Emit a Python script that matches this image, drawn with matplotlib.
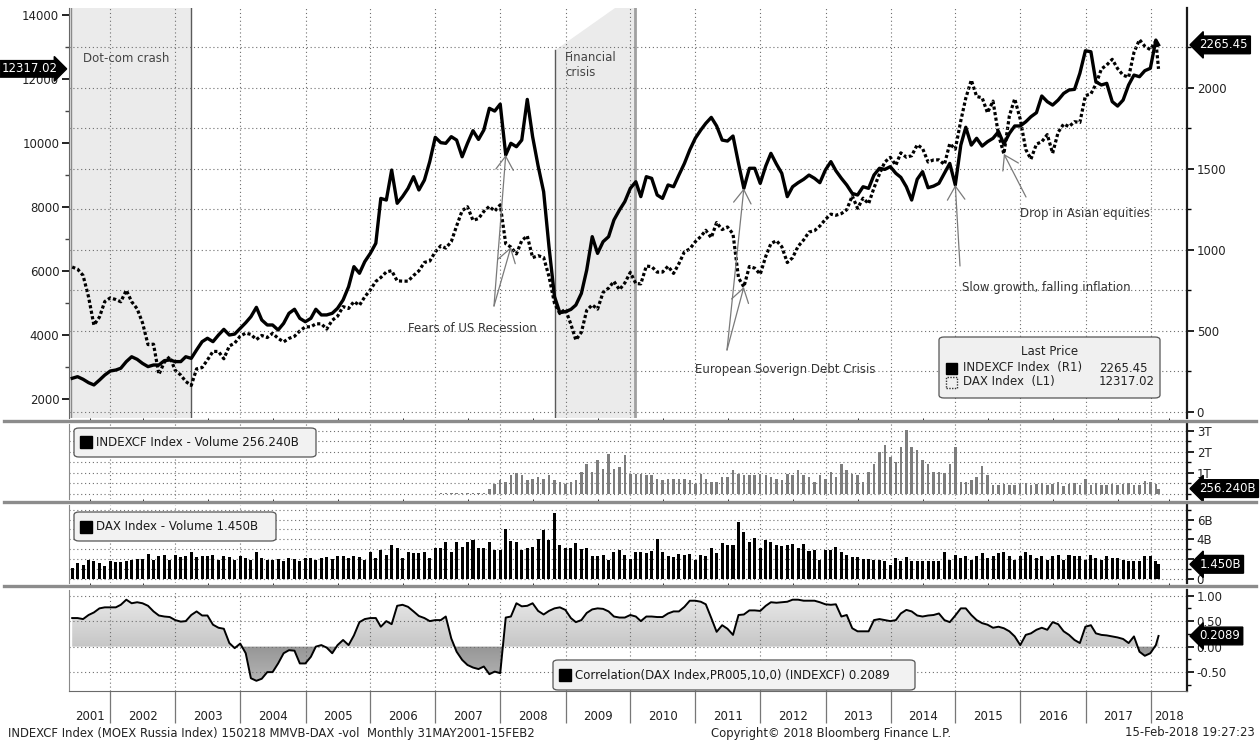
"""
Bloomberg-style chart: MOEX Russia (INDEXCF) vs DAX, volumes and rolling correlation.
Monthly 31MAY2001 - 15FEB2018, values read off the reference screenshot.
"""
import matplotlib
matplotlib.use("Agg")
import matplotlib.pyplot as plt
import matplotlib.dates as mdates
import matplotlib.ticker as mticker
from matplotlib.colors import LinearSegmentedColormap
from matplotlib.lines import Line2D
from matplotlib.patches import FancyBboxPatch, Rectangle
from matplotlib.path import Path
import numpy as np
import pandas as pd

plt.rcParams.update({
    "font.family": "DejaVu Sans",
    "font.size": 8.5,
    "text.color": "#222222",
    "axes.labelcolor": "#222222",
})

FIG_W, FIG_H = 1260, 743
PLOT_LEFT, PLOT_RIGHT = 69, 1187

# ---- data (monthly closes, last point 15 Feb 2018) ----
DATES = list(pd.date_range("2001-05-31", "2018-01-31", freq="ME")) + [pd.Timestamp("2018-02-15")]

INDEXCF = [
    208, 218, 202, 181, 167, 197, 228, 253,
    259, 270, 311, 341, 325, 300, 280, 290, 290, 317, 321, 311,
    311, 341, 331, 383, 434, 455, 434, 475, 510, 475, 481, 516,
    551, 588, 646, 568, 537, 537, 506, 547, 609, 634, 578, 557,
    578, 634, 599, 599, 609, 640, 691, 773, 897, 856, 928, 979,
    1041, 1318, 1308, 1493, 1288, 1329, 1380, 1452, 1370, 1431, 1545, 1695,
    1662, 1658, 1699, 1678, 1575, 1658, 1736, 1682, 1740, 1874, 1857, 1900,
    1586, 1658, 1637, 1678, 1929, 1699, 1518, 1359, 1020, 712, 613, 619,
    633, 660, 732, 876, 1082, 979, 1051, 1082, 1185, 1246, 1298, 1380,
    1421, 1329, 1452, 1442, 1339, 1318, 1401, 1390, 1462, 1534, 1617, 1689,
    1740, 1781, 1818, 1765, 1678, 1672, 1703, 1534, 1380, 1504, 1504, 1411,
    1518, 1596, 1530, 1473, 1329, 1390, 1415, 1436, 1462, 1442, 1415, 1493,
    1545, 1489, 1442, 1401, 1349, 1339, 1390, 1380, 1462, 1504, 1497, 1514,
    1473, 1448, 1390, 1308, 1436, 1483, 1384, 1394, 1411, 1473, 1534, 1401,
    1647, 1757, 1647, 1689, 1641, 1668, 1689, 1730, 1654, 1719, 1765, 1765,
    1791, 1822, 1847, 1950, 1915, 1894, 1925, 1966, 1987, 1991, 2090, 2229,
    2223, 2038, 2018, 2028, 1915, 1888, 1925, 2018, 2079, 2069, 2106, 2121,
    2295, 2265.45,
]

DAX = [
    6124, 6058, 5862, 5188, 4308, 4560, 5045, 5160,
    5108, 5039, 5398, 5041, 4818, 4383, 3700, 3712, 2769, 3153, 3320, 2893,
    2748, 2547, 2424, 2942, 2983, 3221, 3487, 3485, 3257, 3656, 3746, 3965,
    4059, 4018, 3857, 3985, 3921, 4052, 3895, 3785, 3893, 3960, 4126, 4256,
    4255, 4350, 4349, 4185, 4460, 4586, 4887, 4829, 5044, 4929, 5193, 5408,
    5674, 5796, 5970, 6009, 5692, 5683, 5682, 5859, 6004, 6269, 6309, 6597,
    6789, 6715, 6917, 7409, 7884, 8007, 7584, 7638, 7862, 8020, 7871, 8067,
    6851, 6748, 6535, 6949, 7097, 6418, 6479, 6422, 5831, 4988, 4669, 4810,
    4338, 3843, 4085, 4770, 4941, 4809, 5332, 5465, 5675, 5415, 5625, 5957,
    5608, 5598, 6154, 6136, 5965, 5966, 6148, 5925, 6229, 6601, 6688, 6914,
    7077, 7272, 7041, 7514, 7294, 7376, 7159, 5785, 5502, 6141, 6089, 5898,
    6458, 6856, 6947, 6761, 6264, 6416, 6772, 6971, 7216, 7261, 7406, 7612,
    7776, 7742, 7795, 7914, 8349, 7959, 8276, 8104, 8594, 9033, 9406, 9552,
    9306, 9692, 9556, 9603, 9943, 9833, 9407, 9470, 9474, 9327, 9981, 9806,
    10694, 11402, 11966, 11454, 11414, 10945, 11309, 10259, 9660, 10850, 11382, 10743,
    9798, 9495, 9966, 10039, 10263, 9680, 10337, 10593, 10511, 10665, 10640, 11481,
    11535, 11834, 12313, 12438, 12615, 12325, 12118, 12056, 12829, 13230, 13024, 12918,
    13189, 12317.02,
]

# INDEXCF volume in trillions, series starts Jan 2007
INDEXCF_VOL_START = "2007-01-31"
INDEXCF_VOL = [
    0.03, 0.03, 0.03, 0.03, 0.03, 0.03, 0.03, 0.03, 0.03, 0.25, 0.49, 0.65,
    0.57, 0.89, 1.0, 0.89, 0.65, 0.73, 0.81, 0.73, 0.89, 0.65, 0.57, 0.46,
    0.57, 0.65, 1.05, 1.44, 1.05, 1.6, 1.2, 1.92, 1.2, 1.29, 1.84, 0.97,
    0.94, 0.97, 0.89, 0.92, 0.73, 0.65, 0.70, 0.73, 0.70, 0.73, 0.65, 0.49,
    0.97, 0.73, 0.57, 0.57, 0.81, 0.81, 1.13, 0.97, 0.89, 0.92, 0.89, 0.97,
    0.89, 0.81, 0.73, 0.65, 0.97, 0.89, 1.13, 0.89, 0.81, 0.57, 0.89, 0.73,
    1.05, 0.81, 1.44, 1.13, 0.97, 0.89, 0.57, 1.05, 1.44, 2.0, 2.32, 1.76,
    1.52, 2.24, 3.06, 2.24, 2.08, 1.63, 1.44, 1.05, 1.05, 1.0, 1.41, 2.24,
    0.57, 0.57, 0.65, 0.81, 1.32, 0.89, 0.44, 0.44, 0.46, 0.41, 0.44, 0.46,
    0.52, 0.44, 0.46, 0.52, 0.41, 0.49, 0.57, 0.38, 0.46, 0.52, 0.41, 0.73,
    0.44, 0.52, 0.41, 0.44, 0.49, 0.41, 0.46, 0.52, 0.44, 0.41, 0.60, 0.57,
    0.49, 0.25624,
]

# DAX volume in billions
DAX_VOL = [
    1.09, 1.59, 1.42, 1.92, 1.75, 1.59, 1.26, 1.75,
    1.69, 1.69, 1.75, 1.92, 2.0, 2.0, 2.48, 1.92, 2.25, 2.35, 1.92, 2.35,
    2.15, 2.25, 2.68, 2.15, 2.25, 2.25, 2.35, 1.92, 2.25, 2.15, 1.92, 2.25,
    2.08, 1.92, 2.74, 2.08, 1.92, 1.92, 2.0, 1.75, 2.08, 2.0, 1.75, 2.08,
    2.08, 1.92, 2.08, 2.15, 2.0, 2.25, 2.25, 2.08, 2.25, 2.15, 1.92, 2.74,
    2.08, 2.91, 2.41, 3.40, 3.07, 2.08, 2.74, 2.58, 2.58, 2.74, 2.08, 3.07,
    3.07, 3.74, 2.74, 3.74, 3.24, 3.67, 3.90, 3.14, 3.07, 3.74, 2.91, 2.91,
    5.06, 3.80, 3.74, 2.91, 3.07, 3.24, 4.0, 4.89, 3.90, 6.71, 3.40, 3.14,
    3.14, 3.57, 3.01, 3.07, 2.25, 2.25, 2.41, 1.92, 2.74, 2.91, 2.41, 2.0,
    2.74, 2.74, 2.58, 2.81, 4.0, 2.74, 2.25, 2.15, 2.48, 2.35, 2.48, 1.92,
    2.41, 2.25, 3.14, 2.58, 3.57, 3.40, 3.40, 5.72, 4.73, 3.74, 4.13, 3.07,
    3.90, 3.74, 3.40, 3.31, 3.40, 3.47, 3.07, 3.47, 2.81, 2.91, 1.92, 2.91,
    2.91, 3.24, 2.68, 2.41, 2.15, 2.15, 2.0, 2.0, 1.92, 1.92, 1.75, 1.42,
    2.08, 1.75, 2.15, 1.75, 1.75, 1.75, 1.75, 1.75, 1.75, 2.74, 1.92, 2.41,
    2.08, 2.25, 1.92, 2.25, 2.58, 2.08, 2.25, 2.58, 2.74, 2.25, 1.92, 2.25,
    2.74, 2.41, 2.08, 2.25, 1.92, 2.25, 2.41, 1.92, 2.41, 2.25, 2.25, 1.92,
    2.41, 2.08, 1.92, 2.25, 2.08, 2.08, 1.92, 1.75, 1.75, 1.75, 2.25, 2.25,
    1.75, 1.45,
]

CORR = [
    0.56, 0.56, 0.54, 0.62, 0.67, 0.75, 0.77, 0.77,
    0.77, 0.82, 0.92, 0.85, 0.87, 0.85, 0.80, 0.69, 0.61, 0.59, 0.58, 0.52,
    0.49, 0.50, 0.62, 0.69, 0.61, 0.61, 0.43, 0.37, 0.35, 0.07, -0.03, 0.06,
    -0.13, -0.62, -0.67, -0.63, -0.50, -0.50, -0.33, -0.13, -0.07, -0.08, -0.33, -0.33,
    -0.20, 0.00, 0.03, -0.02, -0.13, 0.03, 0.13, 0.03, 0.22, 0.48, 0.54, 0.56,
    0.56, 0.39, 0.50, 0.44, 0.80, 0.82, 0.78, 0.69, 0.60, 0.56, 0.50, 0.52,
    0.52, 0.59, 0.16, -0.10, -0.26, -0.36, -0.41, -0.44, -0.39, -0.54, -0.49, -0.52,
    0.57, 0.59, 0.85, 0.79, 0.80, 0.85, 0.70, 0.63, 0.70, 0.75, 0.77, 0.72,
    0.56, 0.48, 0.52, 0.66, 0.73, 0.75, 0.74, 0.69, 0.59, 0.57, 0.57, 0.62,
    0.59, 0.50, 0.59, 0.59, 0.58, 0.58, 0.65, 0.69, 0.69, 0.78, 0.90, 0.90,
    0.88, 0.83, 0.56, 0.29, 0.42, 0.35, 0.23, 0.62, 0.63, 0.71, 0.71, 0.70,
    0.80, 0.87, 0.86, 0.87, 0.88, 0.92, 0.92, 0.90, 0.90, 0.90, 0.87, 0.83,
    0.82, 0.83, 0.59, 0.62, 0.36, 0.30, 0.30, 0.30, 0.52, 0.54, 0.52, 0.50,
    0.52, 0.65, 0.72, 0.69, 0.61, 0.59, 0.61, 0.62, 0.65, 0.52, 0.48, 0.61,
    0.75, 0.75, 0.62, 0.52, 0.46, 0.43, 0.37, 0.39, 0.36, 0.30, 0.20, 0.03,
    0.23, 0.26, 0.33, 0.37, 0.33, 0.48, 0.44, 0.30, 0.23, 0.13, 0.07, 0.39,
    0.42, 0.26, 0.23, 0.22, 0.20, 0.18, 0.15, 0.07, 0.20, -0.10, -0.18, -0.13,
    0.03, 0.2089,
]

YEARS = list(range(2001, 2019))
XLIM = (pd.Timestamp("2001-05-13"), pd.Timestamp("2018-07-25"))

# shaded events and annotations
DOTCOM_END = pd.Timestamp("2003-03-31")
CRISIS_START, CRISIS_DIAG, CRISIS_END = (pd.Timestamp("2008-11-04"),
                                         pd.Timestamp("2009-10-06"),
                                         pd.Timestamp("2010-01-28"))

GRID_KW = dict(color="#6e6e6e", lw=0.8, ls=(0, (1, 2.5)))
ARROW_KW = dict(arrowstyle="->,head_length=0.7,head_width=0.45", color="#7a7a7a",
                lw=0.9, shrinkA=0, shrinkB=0, mutation_scale=14)


def fx(px):
    return px / FIG_W


def fy(py):
    return 1 - py / FIG_H


def panel_rect(top, bottom):
    return [fx(PLOT_LEFT), fy(bottom), (PLOT_RIGHT - PLOT_LEFT) / FIG_W, (bottom - top) / FIG_H]


def main_frac(px, py):
    return ((px - PLOT_LEFT) / (PLOT_RIGHT - PLOT_LEFT), (418 - py) / (418 - 8))


def style_panel(ax, bottom=False):
    for side in ("top", "bottom"):
        ax.spines[side].set_visible(False)
    ax.spines["left"].set_color("#8a8a8a")
    ax.spines["right"].set_color("#1a1a1a")
    ax.spines["right"].set_linewidth(1.6)
    if bottom:
        ax.spines["bottom"].set_visible(True)
        ax.spines["bottom"].set_color("#6a6a6a")
    ax.yaxis.tick_right()
    ax.tick_params(axis="y", which="major", direction="out", length=5, width=1.4,
                   labelsize=8.5, pad=2, colors="#222222")
    ax.tick_params(axis="y", which="minor", direction="out", length=3, width=1.0)
    ax.tick_params(axis="y", left=False)
    ax.xaxis.set_major_locator(mdates.YearLocator())
    ax.grid(axis="x", which="major", **GRID_KW)


def value_tag(ax, value, text):
    ax.annotate(text, xy=(1, value), xycoords=ax.get_yaxis_transform(),
                xytext=(9, 0), textcoords="offset points", ha="left", va="center",
                color="white", fontsize=8.5, annotation_clip=False, zorder=20,
                bbox=dict(boxstyle="larrow,pad=0.2", fc="black", ec="black"))


def label_box(fig, x0, y0, x1, y1, text):
    fig.add_artist(FancyBboxPatch((fx(x0), fy(y1)), fx(x1) - fx(x0), fy(y0) - fy(y1),
                                  boxstyle="round,pad=0,rounding_size=0.004",
                                  transform=fig.transFigure, fc="#f2f2f2", ec="#555555",
                                  lw=0.9, zorder=15))
    fig.add_artist(Rectangle((fx(x0 + 6), fy((y0 + y1) / 2 + 6)), fx(12), 12 / FIG_H,
                             transform=fig.transFigure, fc="black", ec="black", zorder=16))
    fig.text(fx(x0 + 22), fy((y0 + y1) / 2), text, ha="left", va="center",
             fontsize=8.5, color="#1a1a1a", zorder=17)


def gradient_fill(ax, dates, values, positive, y_extent, colors):
    vals = np.asarray(values)
    mask = vals >= 0 if positive else vals <= 0
    poly = ax.fill_between(dates, vals, 0, where=mask, interpolate=True,
                           facecolor="none", edgecolor="none")
    clip = Path.make_compound_path(*poly.get_paths())
    x0, x1 = mdates.date2num(XLIM[0]), mdates.date2num(XLIM[1])
    grad = np.linspace(0, 1, 256).reshape(-1, 1)
    cmap = LinearSegmentedColormap.from_list("g", colors)
    im = ax.imshow(grad, extent=[x0, x1, y_extent[0], y_extent[1]], origin="lower",
                   aspect="auto", cmap=cmap, zorder=1, interpolation="bilinear")
    im.set_clip_path(clip, transform=ax.transData)


def main():
    assert len(INDEXCF) == len(DAX) == len(DAX_VOL) == len(CORR) == len(DATES)
    vol_dates = [d for d in DATES if d >= pd.Timestamp(INDEXCF_VOL_START)]
    assert len(vol_dates) == len(INDEXCF_VOL)

    fig = plt.figure(figsize=(FIG_W / 100, FIG_H / 100), dpi=100)
    fig.patch.set_facecolor("white")

    # ---------------- main price panel ----------------
    ax = fig.add_axes(panel_rect(8, 418))
    ax2 = ax.twinx()
    ax.set_xlim(*XLIM)
    ax.set_ylim(1406, 14219)
    ax2.set_ylim(-37, 2493)

    ax.axvspan(XLIM[0], DOTCOM_END, color="#ebebeb", zorder=0, lw=0)
    ax.axvline(DOTCOM_END, color="#5a5a5a", lw=1.0, zorder=1)
    ax.axvline(XLIM[0] + pd.Timedelta(days=12), color="#8a8a8a", lw=1.0, zorder=1)
    top = ax.get_ylim()[1]
    ax.fill([CRISIS_START, CRISIS_START, CRISIS_DIAG, CRISIS_END, CRISIS_END],
            [ax.get_ylim()[0], 12900, top, top, ax.get_ylim()[0]],
            color="#ebebeb", lw=0, zorder=0)
    ax.plot([CRISIS_START, CRISIS_START], [ax.get_ylim()[0], 12900], color="#5a5a5a", lw=1.0, zorder=1)
    ax.axvline(CRISIS_END, color="#a0a0a0", lw=2.0, zorder=1)

    ax.plot(DATES, DAX, color="black", lw=2.3, ls=(0, (1, 0.75)), zorder=4)
    ax2.plot(DATES, INDEXCF, color="black", lw=2.4, zorder=4)

    ax.xaxis.set_major_locator(mdates.YearLocator())
    ax.grid(axis="x", **GRID_KW)
    ax2.yaxis.set_major_locator(mticker.MultipleLocator(500))
    ax2.yaxis.set_minor_locator(mticker.MultipleLocator(250))
    ax2.grid(axis="y", which="both", **GRID_KW)
    ax2.set_axisbelow(True)
    ax2.yaxis.set_major_formatter(mticker.FuncFormatter(lambda v, _: f"{v:.0f}"))

    ax.yaxis.set_major_locator(mticker.MultipleLocator(2000))
    ax.yaxis.set_minor_locator(mticker.MultipleLocator(1000))
    ax.yaxis.set_major_formatter(mticker.FuncFormatter(lambda v, _: f"{v:.0f}"))
    ax.tick_params(axis="y", which="major", direction="out", length=5, width=1.4,
                   labelsize=8.5, pad=2, colors="#222222")
    ax.tick_params(axis="y", which="minor", direction="out", length=3, width=1.0, colors="#444444")
    ax2.tick_params(axis="y", which="major", direction="out", length=5, width=1.4,
                    labelsize=8.5, pad=2, colors="#222222")
    ax2.tick_params(axis="y", which="minor", direction="out", length=3, width=1.0)
    for a in (ax, ax2):
        a.tick_params(axis="x", length=0, labelbottom=False)
        for side in ("top", "bottom"):
            a.spines[side].set_visible(False)
    ax.spines["left"].set_color("#666666")
    ax.spines["right"].set_visible(False)
    ax2.spines["left"].set_visible(False)
    ax2.spines["right"].set_color("#1a1a1a")
    ax2.spines["right"].set_linewidth(1.6)

    # left and right last-price tags
    ax.annotate(f"{DAX[-1]:.2f}", xy=(0, DAX[-1]), xycoords=ax.get_yaxis_transform(),
                xytext=(-8, 0), textcoords="offset points", ha="right", va="center",
                color="white", fontsize=8.5, annotation_clip=False, zorder=20,
                bbox=dict(boxstyle="rarrow,pad=0.15", fc="black", ec="black"))
    value_tag(ax2, INDEXCF[-1], f"{INDEXCF[-1]:.2f}")

    # event labels and arrows
    ax.text(*main_frac(83, 58), "Dot-com crash", transform=ax.transAxes, ha="left",
            va="center", fontsize=8.5, color="#444444")
    ax.text(*main_frac(565, 65), "Financial\ncrisis", transform=ax.transAxes, ha="left",
            va="center", fontsize=8.5, color="#444444", linespacing=1.15)
    ax.text(*main_frac(408, 329), "Fears of US Recession", transform=ax.transAxes,
            ha="left", va="center", fontsize=8.5, color="#333333")
    ax.text(*main_frac(695, 369), "European Soverign Debt Crisis", transform=ax.transAxes,
            ha="left", va="center", fontsize=8.5, color="#333333")
    ax.text(*main_frac(962, 287), "Slow growth, falling inflation", transform=ax.transAxes,
            ha="left", va="center", fontsize=8.5, color="#333333")
    ax.text(*main_frac(1020, 213), "Drop in Asian equities", transform=ax.transAxes,
            ha="left", va="center", fontsize=8.5, color="#333333")

    def arrow(axis, idx, series, base):
        axis.annotate("", xy=(DATES[idx], series[idx]), xycoords="data",
                      xytext=main_frac(*base), textcoords=ax.transAxes,
                      arrowprops=ARROW_KW, zorder=6)

    i_jan08 = DATES.index(pd.Timestamp("2008-01-31"))
    i_feb08 = DATES.index(pd.Timestamp("2008-02-29"))
    i_sep11 = DATES.index(pd.Timestamp("2011-09-30"))
    i_dec14 = DATES.index(pd.Timestamp("2014-12-31"))
    i_sep15 = DATES.index(pd.Timestamp("2015-09-30"))
    arrow(ax2, i_jan08, INDEXCF, (494, 306))
    arrow(ax, i_feb08, DAX, (494, 306))
    arrow(ax2, i_sep11, INDEXCF, (727, 350))
    arrow(ax, i_sep11, DAX, (727, 350))
    arrow(ax2, i_dec14, INDEXCF, (960, 266))
    arrow(ax, i_sep15, DAX, (1026, 197))

    # legend box
    fig.add_artist(FancyBboxPatch((fx(939), fy(398)), fx(1160) - fx(939), (398 - 337) / FIG_H,
                                  boxstyle="round,pad=0,rounding_size=0.004",
                                  transform=fig.transFigure, fc="#f0f0f0", ec="#555555",
                                  lw=0.9, zorder=15))
    fig.text(fx(1050), fy(352), "Last Price", ha="center", va="center", fontsize=8.5, zorder=16)
    fig.add_artist(Rectangle((fx(946), fy(374)), fx(11), 11 / FIG_H, transform=fig.transFigure,
                             fc="black", ec="black", zorder=16))
    fig.add_artist(Rectangle((fx(946), fy(388)), fx(11), 11 / FIG_H, transform=fig.transFigure,
                             fc="none", ec="#333333", ls=(0, (1, 1)), lw=1.0, zorder=16))
    fig.text(fx(963), fy(368), "INDEXCF Index  (R1)", ha="left", va="center", fontsize=8.5, zorder=16)
    fig.text(fx(1099), fy(368), f"{INDEXCF[-1]:.2f}", ha="left", va="center", fontsize=8.5, zorder=16)
    fig.text(fx(963), fy(382), "DAX Index  (L1)", ha="left", va="center", fontsize=8.5, zorder=16)
    fig.text(fx(1099), fy(382), f"{DAX[-1]:.2f}", ha="left", va="center", fontsize=8.5, zorder=16)

    # ---------------- INDEXCF volume ----------------
    av1 = fig.add_axes(panel_rect(424, 499), sharex=ax)
    av1.bar(vol_dates, INDEXCF_VOL, width=14, color="#7d7d7d", zorder=3)
    av1.set_ylim(-0.24, 3.33)
    style_panel(av1)
    av1.yaxis.set_major_locator(mticker.FixedLocator([1, 2, 3]))
    av1.yaxis.set_major_formatter(mticker.FuncFormatter(lambda v, _: f"{v:.0f}T"))
    av1.yaxis.set_minor_locator(mticker.MultipleLocator(0.5))
    av1.grid(axis="y", which="both", **GRID_KW)
    av1.tick_params(axis="x", length=0, labelbottom=False)
    value_tag(av1, INDEXCF_VOL[-1], f"{INDEXCF_VOL[-1] * 1000:.3f}B")
    label_box(fig, 74, 428, 316, 457, f"INDEXCF Index - Volume {INDEXCF_VOL[-1] * 1000:.3f}B")

    # ---------------- DAX volume ----------------
    av2 = fig.add_axes(panel_rect(505, 583), sharex=ax)
    av2.bar(DATES, DAX_VOL, width=17, color="black", zorder=3)
    av2.set_ylim(-0.45, 7.48)
    style_panel(av2)
    # the 2B label sits behind the last-value tag, so only its tick is drawn
    av2.yaxis.set_major_locator(mticker.FixedLocator([0, 2, 4, 6]))
    av2.yaxis.set_major_formatter(mticker.FuncFormatter(
        lambda v, _: "0" if v == 0 else ("" if v == 2 else f"{v:.0f}B")))
    av2.yaxis.set_minor_locator(mticker.MultipleLocator(1))
    av2.grid(axis="y", which="both", **GRID_KW)
    av2.tick_params(axis="x", length=0, labelbottom=False)
    value_tag(av2, DAX_VOL[-1], f"{DAX_VOL[-1]:.3f}B")
    label_box(fig, 74, 512, 276, 541, f"DAX Index - Volume {DAX_VOL[-1]:.3f}B")

    # ---------------- correlation ----------------
    axc = fig.add_axes(panel_rect(590, 691), sharex=ax)
    ylo, yhi = -0.87, 1.11
    gradient_fill(axc, DATES, CORR, True, (0, yhi), ["#c6c6c6", "#eeeeee"])
    gradient_fill(axc, DATES, CORR, False, (ylo, 0), ["#bdbdbd", "#969696"])
    axc.plot(DATES, CORR, color="black", lw=1.4, zorder=4)
    axc.set_xlim(*XLIM)
    axc.set_ylim(ylo, yhi)
    style_panel(axc, bottom=True)
    axc.yaxis.set_major_locator(mticker.MultipleLocator(0.5))
    axc.yaxis.set_minor_locator(mticker.MultipleLocator(0.25))
    axc.yaxis.set_major_formatter(mticker.FuncFormatter(lambda v, _: f"{v:.2f}"))
    axc.grid(axis="y", which="major", **GRID_KW)
    value_tag(axc, CORR[-1], f"{CORR[-1]:.4f}")
    label_box(fig, 553, 660, 915, 690, f"Correlation(DAX Index,PR005,10,0) (INDEXCF) {CORR[-1]:.4f}")

    # year separators and centred year labels
    centres = []
    for yr in YEARS:
        lo = max(pd.Timestamp(f"{yr}-01-01"), XLIM[0])
        hi = min(pd.Timestamp(f"{yr + 1}-01-01"), XLIM[1])
        centres.append(mdates.date2num(lo) + (mdates.date2num(hi) - mdates.date2num(lo)) / 2)
    axc.xaxis.set_major_locator(mdates.YearLocator())
    axc.xaxis.set_major_formatter(mticker.NullFormatter())
    axc.xaxis.set_minor_locator(mticker.FixedLocator(centres))
    axc.xaxis.set_minor_formatter(mticker.FixedFormatter([str(y) for y in YEARS]))
    axc.tick_params(axis="x", which="major", direction="out", length=23, width=0.9,
                    colors="#777777")
    axc.tick_params(axis="x", which="minor", length=0, pad=14, labelsize=8.5,
                    labelcolor="#222222")

    # thick grey panel separators
    for y in (421, 502, 586):
        fig.add_artist(Line2D([fx(4), fx(1256)], [fy(y), fy(y)], transform=fig.transFigure,
                              color="#8c8c8c", lw=2.4, zorder=12))

    # footer
    fig.text(fx(8), fy(733), "INDEXCF Index (MOEX Russia Index) 150218 MMVB-DAX -vol  "
             "Monthly 31MAY2001-15FEB2", ha="left", va="center", fontsize=8.4)
    fig.text(fx(831), fy(733), "Copyright\u00a9 2018 Bloomberg Finance L.P.", ha="center",
             va="center", fontsize=8.4)
    fig.text(fx(1255), fy(733), "15-Feb-2018 19:27:23", ha="right", va="center", fontsize=8.4)

    fig.savefig("out.png", dpi=100)


if __name__ == "__main__":
    main()
